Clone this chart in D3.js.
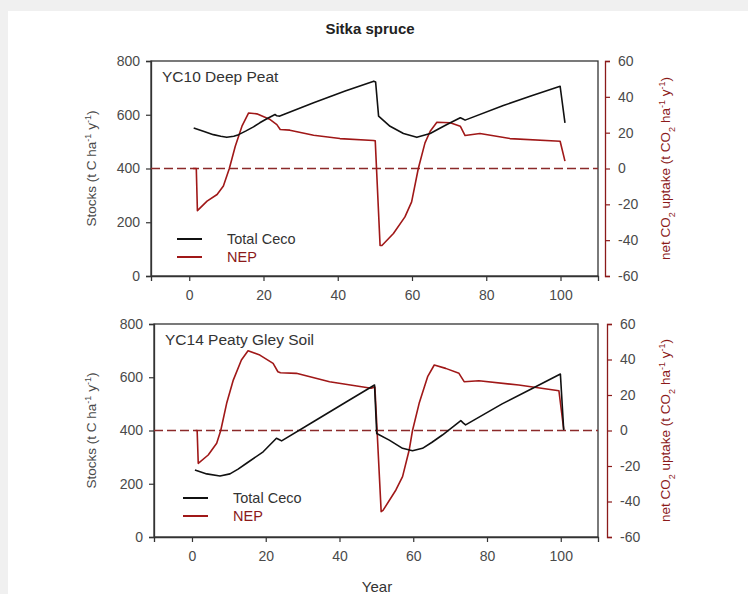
<!DOCTYPE html>
<html>
<head>
<meta charset="utf-8">
<script src="https://cdn.jsdelivr.net/npm/d3@7"></script>
<style>
  body { margin: 0; background: #f0f0f0; }
  svg { display: block; }
  text { font-family: "Liberation Sans", Arial, sans-serif; }
</style>
</head>
<body>
<script>
const W = 748, H = 594
const red = "#8b1a1a"
const grey = "#4a4a4a"

// YC10 Deep Peat
const topCecoYears = [1.2, 4, 6.5, 8.5, 10.1, 12, 13.3, 15.3, 17.3, 19, 20.9, 23.1, 23.6, 24.4, 33.5, 42, 49.7, 50.2, 51, 54.1, 57.7, 61.3, 64.9, 67, 69.4, 73, 73.6, 74.3, 84.6, 92, 99.9, 101.2]
const topCeco = [551, 538, 526, 520, 516, 520, 526, 540, 555, 570, 585, 601, 596, 595, 645, 688, 725, 722, 595, 557, 530, 516, 530, 546, 564, 589, 585, 580, 634, 670, 706, 570]
const topNepYears = [1, 1.9, 2.2, 4.8, 7.5, 9.2, 10.8, 12.4, 14.2, 16, 18.2, 21.8, 23.6, 24.5, 27.1, 33.5, 40.6, 49.6, 50.1, 51.4, 51.9, 55, 58.1, 59.9, 61.7, 63.5, 64.9, 66.7, 70.3, 73, 74.3, 78.3, 86.4, 99.9, 101.2]
const topNep = [0, 0, -23.5, -18.2, -14.5, -9.8, 0, 12.4, 23.6, 31, 30.5, 27.3, 24.5, 21.8, 21.4, 18.6, 16.7, 15.6, 15.4, -43, -43, -36.3, -27, -18.6, 0, 14.3, 20.8, 25.8, 25.5, 23.6, 18.4, 19.5, 16.7, 15.2, 4.1]

// YC14 Peaty Gley Soil
const botCecoYears = [0.8, 4, 7.6, 10.3, 12.5, 14.8, 19.3, 22.9, 23.6, 24.3, 32.8, 41.8, 49.5, 50.1, 53.5, 57.1, 59.8, 62.5, 65, 67.9, 72.9, 73.6, 74.2, 84.1, 92, 99.9, 100.8]
const botCeco = [252, 237, 229, 237, 255, 277, 320, 371, 366, 361, 432, 507, 571, 389, 364, 333, 324, 333, 355, 383, 437, 428, 421, 500, 556, 612, 402]
const botNepYears = [1, 1.4, 1.7, 4.4, 6.7, 7.8, 9.4, 11.2, 13.4, 15.2, 18.4, 22, 23.3, 24, 28.3, 37.3, 48.6, 49.6, 51.3, 51.8, 55.3, 57.1, 58.9, 59.8, 61.6, 63.9, 65.7, 68.8, 72.4, 73.8, 77.8, 88.6, 99.5, 100.8]
const botNep = [0, 0, -18.5, -13.8, -7.2, 0, 15.3, 28.4, 39.7, 44.9, 42.5, 37.8, 33.1, 32.5, 32.2, 27.5, 23.8, 24.5, -45.7, -45, -33.5, -26, -11, 0, 15.3, 30.3, 36.9, 35, 32.2, 27.5, 28, 25.6, 22.4, 0.7]

const xTicks = [0, 20, 40, 60, 80, 100]
const leftTicks = [0, 200, 400, 600, 800]
const rightTicks = [-60, -40, -20, 0, 20, 40, 60]

const panels = [
    {label: "YC10 Deep Peat", left: 151, right: 598, top: 61, bottom: 276, redX: 605,
     cecoX: topCecoYears, ceco: topCeco, nepX: topNepYears, nep: topNep, legY: 239, legX: 177},
    {label: "YC14 Peaty Gley Soil", left: 154, right: 598, top: 324, bottom: 537, redX: 607,
     cecoX: botCecoYears, ceco: botCeco, nepX: botNepYears, nep: botNep, legY: 498, legX: 183}
]

let svg = d3.select("body")
    .append("svg")
    .attr("width", W)
    .attr("height", H)

svg.append("rect")
    .attr("x", 8)
    .attr("y", 11)
    .attr("width", W - 8)
    .attr("height", H - 11)
    .attr("fill", "white")

svg.append("text")
    .attr("x", 370)
    .attr("y", 34)
    .attr("text-anchor", "middle")
    .style("font-size", "15px")
    .style("font-weight", "bold")
    .attr("fill", "#222")
    .text("Sitka spruce")

// axis label with superscripts / subscripts
function richLabel(g, parts){
    parts.forEach(p => {
        let t = g.append("tspan").text(p[0])
        if(p[1] == "sup"){
            t.attr("baseline-shift", "super").style("font-size", "9px")
        } else if(p[1] == "sub"){
            t.attr("baseline-shift", "sub").style("font-size", "9px")
        }
    })
}

const plain = d => String(d)

panels.forEach(p => {
    let x = d3.scaleLinear().domain([-10.3, 110.1]).range([p.left, p.right])
    let yL = d3.scaleLinear().domain([0, 800]).range([p.bottom, p.top])
    let yR = d3.scaleLinear().domain([-60, 60]).range([p.bottom, p.top])

    // frame
    svg.append("rect")
        .attr("x", p.left)
        .attr("y", p.top)
        .attr("width", p.right - p.left)
        .attr("height", p.bottom - p.top)
        .attr("fill", "none")
        .attr("stroke", "#333")
        .attr("stroke-width", 1.3)

    let gx = svg.append("g")
        .attr("transform", `translate(0,${p.bottom})`)
        .call(d3.axisBottom(x).tickValues(xTicks).tickFormat(plain).tickSizeOuter(0).tickSize(5).tickPadding(9))
    let gl = svg.append("g")
        .attr("transform", `translate(${p.left},0)`)
        .call(d3.axisLeft(yL).tickValues(leftTicks).tickFormat(plain).tickSizeOuter(0).tickSize(5).tickPadding(6))
    let gr = svg.append("g")
        .attr("transform", `translate(${p.redX},0)`)
        .call(d3.axisRight(yR).tickValues(rightTicks).tickFormat(plain).tickSizeOuter(0).tickSize(5).tickPadding(8))

    ;[gx, gl].forEach(g => {
        g.select(".domain").attr("stroke", "#333").attr("stroke-width", 1.3)
        g.selectAll(".tick line").attr("stroke", "#333").attr("stroke-width", 1.2)
    })
    gr.select(".domain").attr("stroke", red).attr("stroke-width", 1.3)
    gr.selectAll(".tick line").attr("stroke", red).attr("stroke-width", 1.2)
    ;[gx, gl, gr].forEach(g => {
        g.selectAll(".tick text")
            .attr("fill", grey)
            .style("font-size", "14px")
            .style("font-family", "Liberation Sans, Arial, sans-serif")
    })

    // zero line of the right axis
    svg.append("line")
        .attr("x1", p.left)
        .attr("x2", p.right)
        .attr("y1", yR(0))
        .attr("y2", yR(0))
        .attr("stroke", "#8b2a2a")
        .attr("stroke-width", 1.4)
        .attr("stroke-dasharray", "9,4")

    let cecoData = p.cecoX.map((d, i) => [d, p.ceco[i]])
    let nepData = p.nepX.map((d, i) => [d, p.nep[i]])

    svg.append("path")
        .datum(nepData)
        .attr("fill", "none")
        .attr("stroke", "#a01818")
        .attr("stroke-width", 1.6)
        .attr("stroke-linejoin", "round")
        .attr("d", d3.line().x(d => x(d[0])).y(d => yR(d[1])))

    svg.append("path")
        .datum(cecoData)
        .attr("fill", "none")
        .attr("stroke", "#111")
        .attr("stroke-width", 1.6)
        .attr("stroke-linejoin", "round")
        .attr("d", d3.line().x(d => x(d[0])).y(d => yL(d[1])))

    svg.append("text")
        .attr("x", p.left + 11)
        .attr("y", p.top + 21)
        .attr("fill", "#333")
        .style("font-size", "15.5px")
        .text(p.label)

    // legend
    let leg = [["Total Ceco", "#111", "#333"], ["NEP", "#a01818", red]]
    leg.forEach((l, i) => {
        let ly = p.legY + i*18
        svg.append("line")
            .attr("x1", p.legX)
            .attr("x2", p.legX + 25)
            .attr("y1", ly)
            .attr("y2", ly)
            .attr("stroke", l[1])
            .attr("stroke-width", 2)
        svg.append("text")
            .attr("x", p.legX + 50)
            .attr("y", ly + 5)
            .attr("fill", l[2])
            .style("font-size", "14.5px")
            .text(l[0])
    })

    let mid = (p.top + p.bottom)/2
    let ll = svg.append("text")
        .attr("transform", `translate(96,${mid}) rotate(-90)`)
        .attr("text-anchor", "middle")
        .attr("fill", grey)
        .style("font-size", "13.5px")
    richLabel(ll, [["Stocks (t C ha"], ["-1", "sup"], [" y"], ["-1", "sup"], [")"]])

    let rl = svg.append("text")
        .attr("transform", `translate(670,${mid}) rotate(-90)`)
        .attr("text-anchor", "middle")
        .attr("fill", red)
        .style("font-size", "13.5px")
    richLabel(rl, [["net CO"], ["2", "sub"], [" uptake (t CO"], ["2", "sub"], [" ha"], ["-1", "sup"], [" y"], ["-1", "sup"], [")"]])
})

svg.append("text")
    .attr("x", 377)
    .attr("y", 592)
    .attr("text-anchor", "middle")
    .attr("fill", "#333")
    .style("font-size", "15px")
    .text("Year")
</script>
</body>
</html>
